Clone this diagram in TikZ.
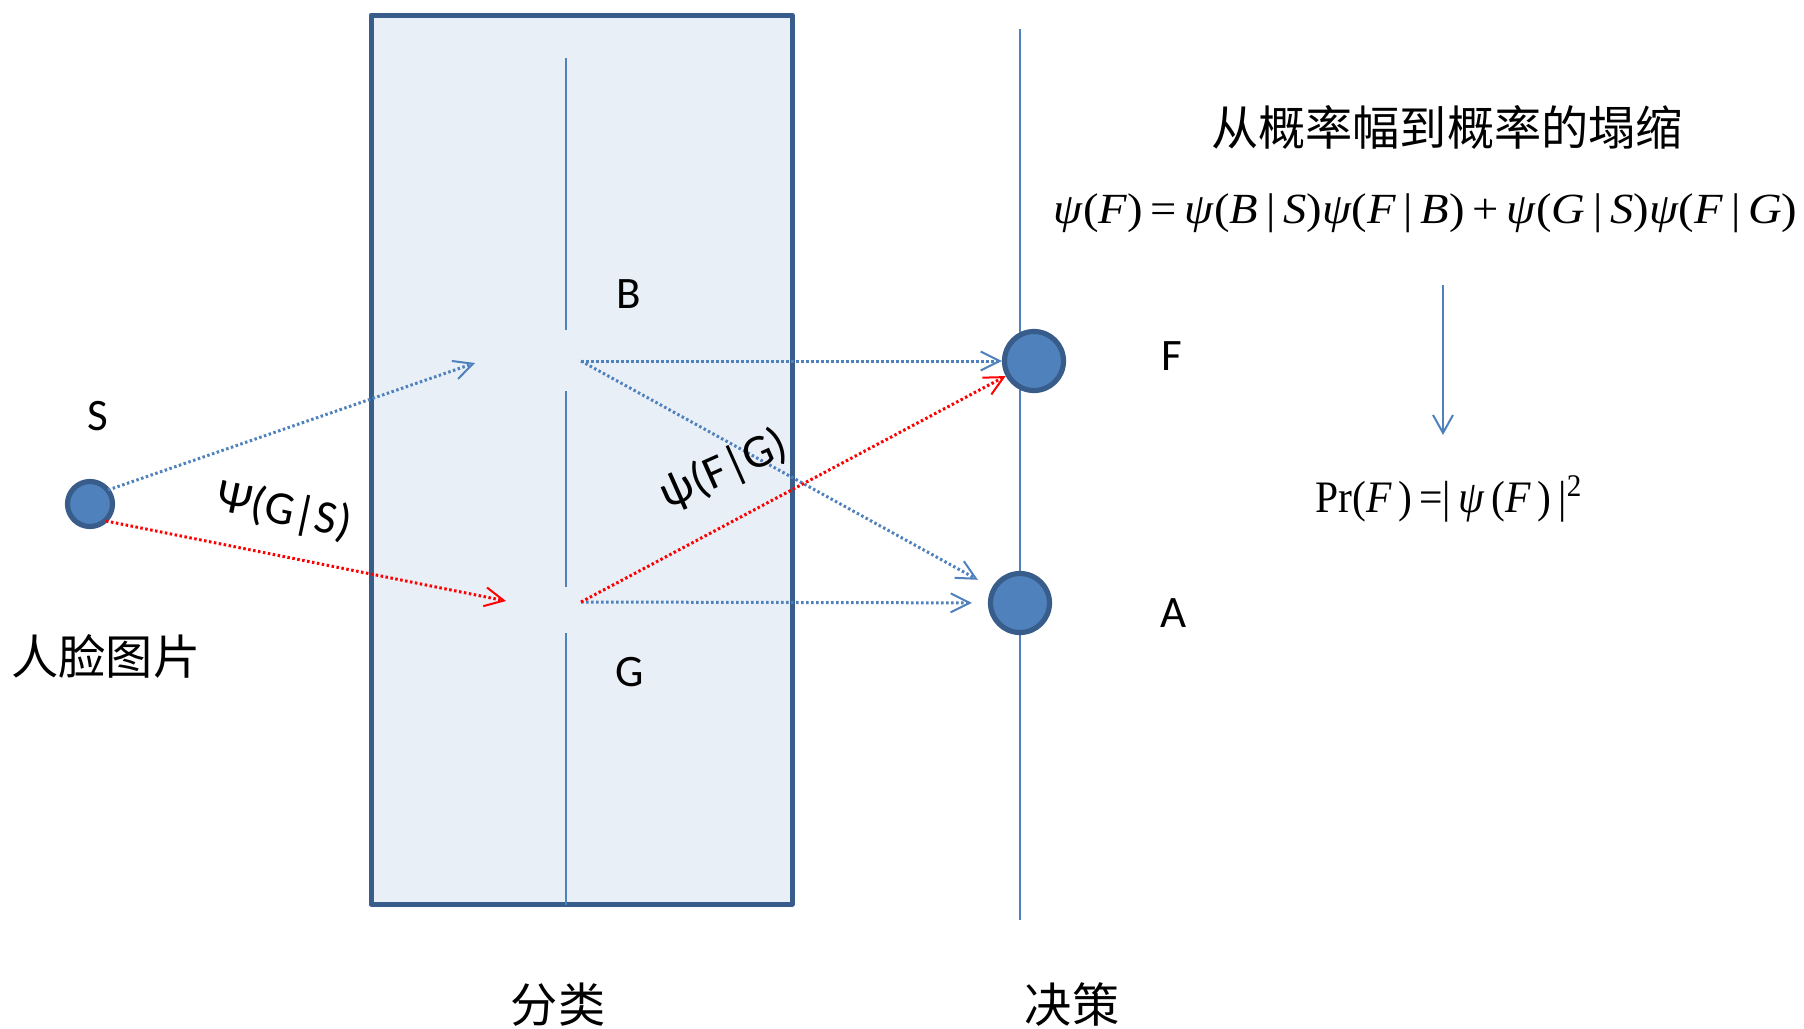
\documentclass[tikz,border=0pt]{standalone}
\usepackage{fontspec}
\usepackage{graphicx}
\setmainfont{Carlito}
\newfontfamily\cjk{Noto Sans CJK SC}
\newfontfamily\tms{Liberation Serif}
\usetikzlibrary{arrows.meta}
\definecolor{obl}{HTML}{4F81BD}
\definecolor{dbl}{HTML}{385D8A}
\definecolor{fillb}{HTML}{E9EFF7}
\definecolor{rd}{HTML}{FF0000}
\begin{document}
\begin{tikzpicture}[x=0.5pt,y=-0.5pt,
  lab/.style={font=\fontsize{22.5}{27}\selectfont, inner sep=0, anchor=base},
  cjklab/.style={font=\cjk\fontsize{23.6}{28}\selectfont, inner sep=0, anchor=base},
  ball/.style={circle, fill=obl, draw=dbl, line width=2.6pt, inner sep=0},
  thinline/.style={draw=obl, line width=1pt},
  tip/.style={-{Straight Barb[length=9.5pt,width=9.5pt,line width=1pt]}},
  bdot/.style={tip, draw=obl, line width=1.5pt, dash pattern=on 1.25pt off 1.25pt},
  rdot/.style={tip, draw=rd, line width=1.5pt, dash pattern=on 1.25pt off 1.25pt},
]
\useasboundingbox (0,0) rectangle (1804,1028);
\fill[white] (0,0) rectangle (1804,1028);

% classification box
\draw[fill=fillb, draw=dbl, line width=2.5pt, line join=round] (371,15) rectangle (792,904);
\draw[thinline] (566,58) -- (566,330);
\draw[thinline] (566,391) -- (566,587);
\draw[thinline] (566,633) -- (566,905);

% decision line
\draw[thinline] (1020,29) -- (1020,920);

% nodes
\node[ball, minimum size=22.5pt] (S) at (90,504) {};
\node[ball, minimum size=29.5pt] (F) at (1034,361) {};
\node[ball, minimum size=29.5pt] (A) at (1020,603) {};

\coordinate (Bin) at (475,363);
\coordinate (Gin) at (506,601);
\coordinate (Bout) at (581,361);
\coordinate (Gout) at (581,602);
\coordinate (Sb) at (108,490);
\coordinate (Sr) at (106,521);

% connectors
\draw[bdot] (Sb) -- (Bin);
\draw[rdot] (Sr) -- (Gin);
\draw[bdot] (Bout) -- (F);
\draw[bdot, shorten >=8pt] (Bout) -- (A);
\draw[bdot, shorten >=8pt] (Gout) -- (A);
\draw[rdot] (Gout) -- (F);

% labels
\node[lab] (lS) at (98,430) {S};
\node[lab] (lB) at (629,308) {B};
\node[lab] (lG) at (630,686) {G};
\node[lab] (lF) at (1172,370) {F};
\node[lab] (lA) at (1174,627) {A};
\node[font=\fontsize{23.5}{28}\selectfont, inner sep=0, rotate=-12] (lGS) at (284,511) {Ψ(G|S)};
\node[font=\fontsize{23.5}{28}\selectfont, inner sep=0, rotate=24] (lFG) at (724,470) {ψ(F|G)};

\node[cjklab] (face) at (106,674) {人脸图片};
\node[cjklab] (cls) at (558,1022) {分类};
\node[cjklab] (dec) at (1072,1022) {决策};
\node[cjklab] (title) at (1447,145) {从概率幅到概率的塌缩};

% formulas
\node[anchor=base west, inner sep=0] (eq1) at (1053,223) {\resizebox{372pt}{\height}{\tms\fontsize{21.5}{25}\selectfont \textit{ψ}(\textit{F})\,=\,\textit{ψ}(\textit{B}\,|\,\textit{S})\textit{ψ}(\textit{F}\,|\,\textit{B})\,+\,\textit{ψ}(\textit{G}\,|\,\textit{S})\textit{ψ}(\textit{F}\,|\,\textit{G})}};
\coordinate (arT) at (1443,285);
\coordinate (arB) at (1443,435);
\draw[thinline, -{Straight Barb[length=9pt,width=10pt,line width=1pt]}] (arT) -- (arB);
\node[anchor=base west, inner sep=0] (eq2) at (1315,512) {\resizebox{133.5pt}{\height}{\tms\fontsize{22.5}{27}\selectfont Pr(\textit{F}\,)\,=|\,\textit{ψ}\,(\textit{F}\,)\,|\textsuperscript{2}}};
\end{tikzpicture}
\end{document}
